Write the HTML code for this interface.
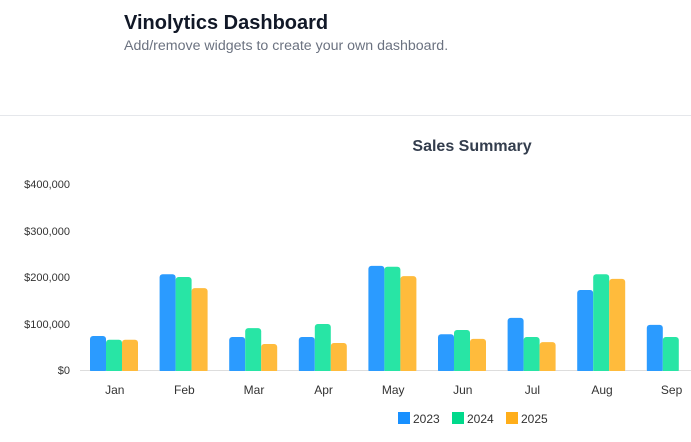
<!DOCTYPE html>
<html><head><style>
html,body{margin:0;padding:0;background:#fff;width:691px;height:442px;overflow:hidden;font-family:"Liberation Sans",sans-serif}
.h1{position:absolute;left:124px;top:12px;font-size:20px;font-weight:bold;color:#111827}
.h2{position:absolute;left:124px;top:38px;font-size:14.2px;color:#6b7280}
.hr{position:absolute;left:0;top:115px;width:691px;height:1px;background:#e5e7eb}
svg{position:absolute;left:0;top:0}
</style></head><body>
<div class="h1">Vinolytics Dashboard</div>
<div class="h2">Add/remove widgets to create your own dashboard.</div>
<div class="hr"></div>
<svg width="691" height="442" font-family="Liberation Sans, sans-serif">
<text x="472" y="151" text-anchor="middle" font-size="16" font-weight="bold" fill="#333d4d">Sales Summary</text>
<g font-size="11" fill="#333" text-anchor="end">
<text x="70" y="188">$400,000</text>
<text x="70" y="235">$300,000</text>
<text x="70" y="281">$200,000</text>
<text x="70" y="328">$100,000</text>
<text x="70" y="374">$0</text>
</g>
<line x1="80" y1="370.5" x2="691" y2="370.5" stroke="#ddd"/>
<g id="bars"></g>
<g font-size="12" fill="#333" text-anchor="middle" id="labels"></g>
<g font-size="12" fill="#333">
<rect x="398" y="412" width="12" height="12" fill="#1890ff"/><text x="413" y="423">2023</text>
<rect x="452" y="412" width="12" height="12" fill="#00d98b"/><text x="467" y="423">2024</text>
<rect x="506" y="412" width="12" height="12" fill="#ffae1a"/><text x="521" y="423">2025</text>
</g>
</svg>
<script>
var d=[[73,65,65],[206,200,176],[71,90,56],[71,99,58],[224,222,202],[77,86,67],[112,71,60],[172,206,196],[97,71,null]];
var m=["Jan","Feb","Mar","Apr","May","Jun","Jul","Aug","Sep"];
var c=["#2b9bff","#28e5a5","#ffbb3c"];
var ns="http://www.w3.org/2000/svg",g=document.getElementById("bars"),l=document.getElementById("labels");
d.forEach(function(r,i){var b=80+i*69.6;
 var t=document.createElementNS(ns,"line");t.setAttribute("x1",b+.5);t.setAttribute("x2",b+.5);t.setAttribute("y1",370);t.setAttribute("y2",376);t.setAttribute("stroke","#ddd");g.appendChild(t);
 r.forEach(function(v,j){if(v==null)return;var h=v*0.465;var p=document.createElementNS(ns,"rect");
 p.setAttribute("x",b+10+j*16);p.setAttribute("y",370-h);p.setAttribute("width",16);p.setAttribute("height",h+3);p.setAttribute("rx",3);p.setAttribute("fill",c[j]);g.appendChild(p);});
 var tx=document.createElementNS(ns,"text");tx.setAttribute("x",b+34.8);tx.setAttribute("y",394);tx.textContent=m[i];l.appendChild(tx);});
var cover=document.createElementNS(ns,"rect");cover.setAttribute("x",80);cover.setAttribute("y",371);cover.setAttribute("width",611);cover.setAttribute("height",5);cover.setAttribute("fill","#fff");g.appendChild(cover);
</script>
</body></html>
